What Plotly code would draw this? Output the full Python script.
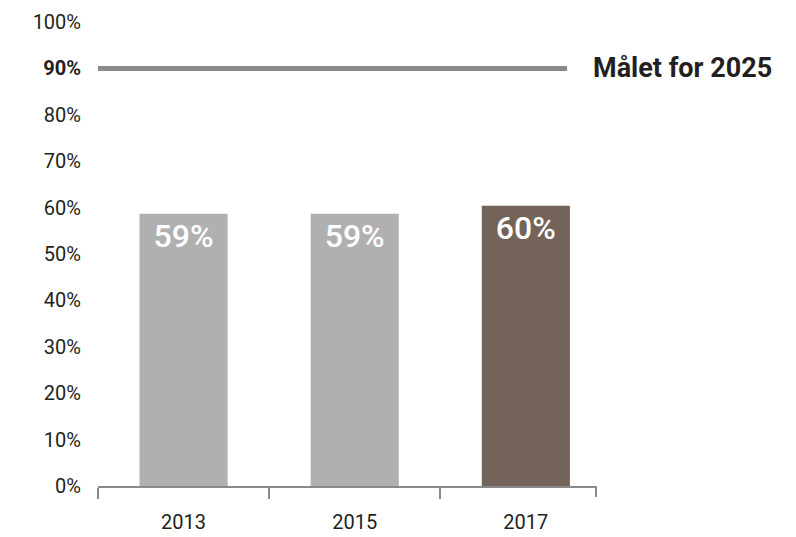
import plotly.graph_objects as go

years = ["2013", "2015", "2017"]
shares = [0.587, 0.587, 0.604]
bar_labels = ["59%", "59%", "60%"]
bar_colors = ["#b1b0b0", "#b1b0b0", "#746359"]
target_value = 0.90
target_label = "Målet for 2025"
y_tickvals = [0, 0.1, 0.2, 0.3, 0.4, 0.5, 0.6, 0.7, 0.8, 0.9, 1.0]
y_ticktext = ["0%", "10%", "20%", "30%", "40%", "50%", "60%", "70%", "80%", "<b>90%</b>", "100%"]

FONT = "Roboto"

fig = go.Figure()
fig.add_trace(go.Bar(
    x=years, y=shares, width=0.515,
    marker=dict(color=bar_colors, line=dict(width=0)),
    text=bar_labels, textposition="inside", insidetextanchor="end",
    textfont=dict(family=FONT, size=32, color="white", weight=500),
    textangle=0, cliponaxis=False, hoverinfo="skip",
))

fig.add_shape(type="line", xref="paper", yref="y", x0=0, x1=0.942,
              y0=target_value, y1=target_value,
              line=dict(color="#8a8a8c", width=5))
fig.add_annotation(xref="paper", yref="y", x=0.99, y=target_value,
                   text="<b>" + target_label + "</b>", showarrow=False,
                   xanchor="left", yanchor="middle",
                   font=dict(family=FONT, size=27, color="#231f20"))
# closing tick at right end of axis
fig.add_shape(type="line", xref="paper", yref="paper", x0=1, x1=1,
              y0=0, y1=-0.0235, line=dict(color="#8a8a8c", width=2))

fig.update_layout(
    width=788, height=529,
    margin=dict(l=90, r=200, t=14, b=51, autoexpand=False),
    plot_bgcolor="white", paper_bgcolor="white",
    showlegend=False, bargap=0.485,
    font=dict(family=FONT, size=20, color="#231f20"),
    xaxis=dict(
        type="category", range=[-0.5, 2.41], automargin=False,
        showline=True, linecolor="#8a8a8c", linewidth=2,
        ticks="outside", tickson="boundaries", ticklen=11,
        tickcolor="#8a8a8c", tickwidth=2,
        tickfont=dict(family=FONT, size=20, color="#231f20"),
        ticklabelstandoff=17, showgrid=False, zeroline=False,
    ),
    yaxis=dict(
        range=[0, 1.0], tickvals=y_tickvals, ticktext=y_ticktext,
        automargin=False,
        showgrid=False, zeroline=False, showline=False, ticks="",
        tickfont=dict(family=FONT, size=20, color="#231f20"),
        ticklabelstandoff=16,
    ),
)

fig.write_html("out.html")
